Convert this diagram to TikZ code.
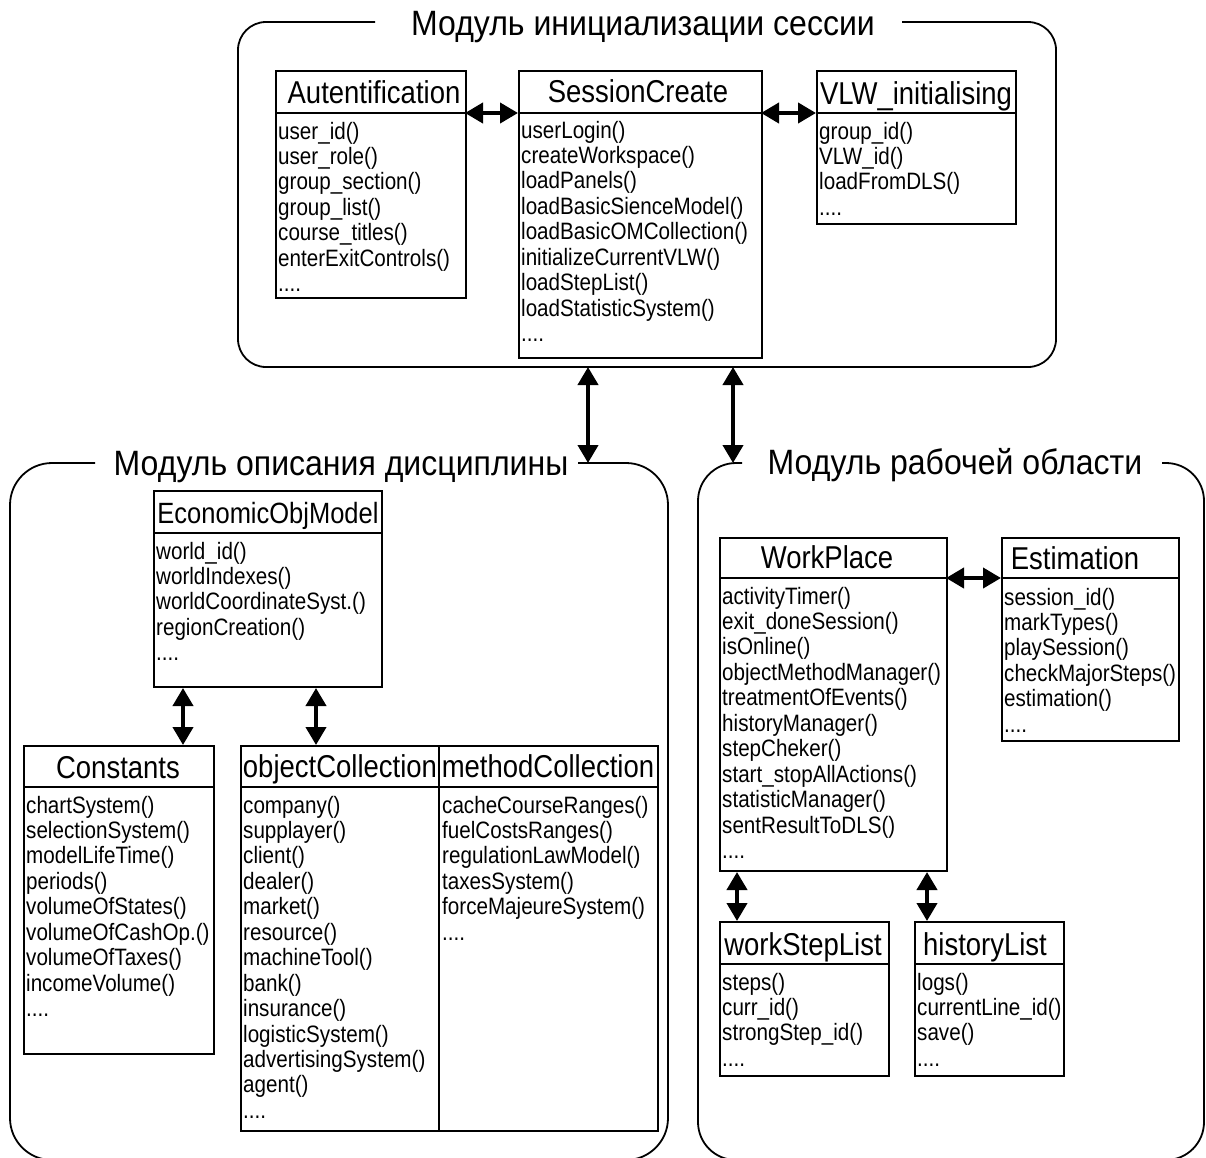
\documentclass[tikz,border=0pt]{standalone}
\usepackage{fontspec}
\setmainfont{Liberation Sans}[FakeStretch=0.87]
\newfontfamily\ttlfont{Liberation Sans}[FakeStretch=0.91]
\usetikzlibrary{arrows.meta}
\tikzset{
  cls/.style={draw, line width=2pt, inner sep=0pt, anchor=north west},
  divl/.style={line width=2pt},
  hdr/.style={font=\fontsize{31.6}{34}\selectfont, inner sep=0pt, anchor=base},
  mth/.style={font=\fontsize{23.7}{25.45}\selectfont, align=left, inner sep=0pt, anchor=north west},
  frame/.style={line width=1.8pt},
  ttl/.style={font=\ttlfont\fontsize{35.2}{38}\selectfont, inner sep=0pt, anchor=base},
  dbl/.style={line width=4pt, {Triangle[length=18pt,width=20pt]}-{Triangle[length=18pt,width=20pt]}},
}
\begin{document}
\begin{tikzpicture}[x=1pt,y=-1pt]
\useasboundingbox (0,0) rectangle (1206,1157);
\clip (0,0) rectangle (1206,1157);

% ---------- frames ----------
\draw[frame, rounded corners=28pt] (375,22) -- (238,22) -- (238,367) -- (1056,367) -- (1056,22) -- (902,22);
\node[ttl] (t1) at (643,35) {Модуль инициализации сессии};
\draw[frame, rounded corners=42pt] (95,463) -- (10,463) -- (10,1160) -- (668,1160) -- (668,463) -- (578,463);
\node[ttl] (t2) at (341,475) {Модуль описания дисциплины};
\draw[frame, rounded corners=38pt] (742,463) -- (698,463) -- (698,1160) -- (1204,1160) -- (1204,463) -- (1162,463);
\node[ttl] (t3) at (955,474) {Модуль рабочей области};

% ---------- Autentification ----------
\node[cls, minimum width=190pt, minimum height=227pt] (auth) at (275,70) {};
\coordinate (auth-dl) at (275,113); \coordinate (auth-dr) at (465,113);
\draw[divl] (auth-dl) -- (auth-dr);
\node[hdr] (auth-h) at (374,103) {Autentification};
\node[mth] (auth-m) at (278,121) {\strut user\_id()\\user\_role()\\group\_section()\\group\_list()\\course\_titles()\\enterExitControls()\\....};

% ---------- SessionCreate ----------
\node[cls, minimum width=243pt, minimum height=287pt] (sess) at (518,70) {};
\coordinate (sess-dl) at (518,113); \coordinate (sess-dr) at (761,113);
\draw[divl] (sess-dl) -- (sess-dr);
\node[hdr] (sess-h) at (638,102) {SessionCreate};
\node[mth] (sess-m) at (521,120) {\strut userLogin()\\createWorkspace()\\loadPanels()\\loadBasicSienceModel()\\loadBasicOMCollection()\\initializeCurrentVLW()\\loadStepList()\\loadStatisticSystem()\\....};

% ---------- VLW_initialising ----------
\node[cls, minimum width=199pt, minimum height=153pt] (vlw) at (816,70) {};
\coordinate (vlw-dl) at (816,113); \coordinate (vlw-dr) at (1015,113);
\draw[divl] (vlw-dl) -- (vlw-dr);
\node[hdr] (vlw-h) at (916,104) {VLW\_initialising};
\node[mth] (vlw-m) at (819,121) {\strut group\_id()\\VLW\_id()\\loadFromDLS()\\....};

\draw[dbl] (auth-dr) -- (sess-dl);
\draw[dbl] (sess-dr) -- (vlw-dl);

% ---------- inter-module arrows ----------
\coordinate (f1a) at (588,367); \coordinate (f2a) at (588,463);
\coordinate (f1b) at (733,367); \coordinate (f3a) at (733,463);
\draw[dbl] (f1a) -- (f2a);
\draw[dbl] (f1b) -- (f3a);

% ---------- EconomicObjModel ----------
\node[cls, minimum width=228pt, minimum height=196pt] (eco) at (153,490) {};
\coordinate (eco-dl) at (153,533); \coordinate (eco-dr) at (381,533);
\draw[divl] (eco-dl) -- (eco-dr);
\node[hdr, font=\fontsize{29.3}{32}\selectfont] (eco-h) at (268,523) {EconomicObjModel};
\node[mth] (eco-m) at (156,541) {\strut world\_id()\\worldIndexes()\\worldCoordinateSyst.()\\regionCreation()\\....};

% ---------- Constants ----------
\node[cls, minimum width=190pt, minimum height=308pt] (const) at (23,745) {};
\coordinate (const-dl) at (23,787); \coordinate (const-dr) at (213,787);
\draw[divl] (const-dl) -- (const-dr);
\node[hdr] (const-h) at (118,778) {Constants};
\node[mth] (const-m) at (26,795) {\strut chartSystem()\\selectionSystem()\\modelLifeTime()\\periods()\\volumeOfStates()\\volumeOfCashOp.()\\volumeOfTaxes()\\incomeVolume()\\....};

% ---------- objectCollection / methodCollection ----------
\node[cls, minimum width=417pt, minimum height=385pt] (coll) at (240,745) {};
\coordinate (coll-dl) at (240,787); \coordinate (coll-dr) at (657,787);
\draw[divl] (coll-dl) -- (coll-dr);
\draw[divl] ([xshift=199pt]coll.north west) -- ([xshift=199pt]coll.south west);
\node[hdr] (obj-h) at (340,777) {objectCollection};
\node[hdr] (met-h) at (548,777) {methodCollection};
\node[mth] (obj-m) at (243,795) {\strut company()\\supplayer()\\client()\\dealer()\\market()\\resource()\\machineTool()\\bank()\\insurance()\\logisticSystem()\\advertisingSystem()\\agent()\\....};
\node[mth] (met-m) at (442,795) {\strut cacheCourseRanges()\\fuelCostsRanges()\\regulationLawModel()\\taxesSystem()\\forceMajeureSystem()\\....};

\draw[dbl] ([xshift=30pt]eco.south west) -- ([xshift=160pt]const.north west);
\draw[dbl] ([xshift=163pt]eco.south west) -- ([xshift=76pt]coll.north west);

% ---------- WorkPlace ----------
\node[cls, minimum width=227pt, minimum height=333pt] (work) at (719,537) {};
\coordinate (work-dl) at (719,578); \coordinate (work-dr) at (946,578);
\draw[divl] (work-dl) -- (work-dr);
\node[hdr] (work-h) at (827,568) {WorkPlace};
\node[mth] (work-m) at (722,586) {\strut activityTimer()\\exit\_doneSession()\\isOnline()\\objectMethodManager()\\treatmentOfEvents()\\historyManager()\\stepCheker()\\start\_stopAllActions()\\statisticManager()\\sentResultToDLS()\\....};

% ---------- Estimation ----------
\node[cls, minimum width=177pt, minimum height=203pt] (est) at (1001,537) {};
\coordinate (est-dl) at (1001,578); \coordinate (est-dr) at (1178,578);
\draw[divl] (est-dl) -- (est-dr);
\node[hdr] (est-h) at (1075,569) {Estimation};
\node[mth] (est-m) at (1004,587) {\strut session\_id()\\markTypes()\\playSession()\\checkMajorSteps()\\estimation()\\....};

\draw[dbl] (work-dr) -- (est-dl);

% ---------- workStepList ----------
\node[cls, minimum width=169pt, minimum height=154pt] (wsl) at (719,921) {};
\coordinate (wsl-dl) at (719,964); \coordinate (wsl-dr) at (888,964);
\draw[divl] (wsl-dl) -- (wsl-dr);
\node[hdr] (wsl-h) at (803,955) {workStepList};
\node[mth] (wsl-m) at (722,972) {\strut steps()\\curr\_id()\\strongStep\_id()\\....};

% ---------- historyList ----------
\node[cls, minimum width=149pt, minimum height=154pt] (hist) at (914,921) {};
\coordinate (hist-dl) at (914,964); \coordinate (hist-dr) at (1063,964);
\draw[divl] (hist-dl) -- (hist-dr);
\node[hdr] (hist-h) at (985,955) {historyList};
\node[mth] (hist-m) at (917,972) {\strut logs()\\currentLine\_id()\\save()\\....};

\draw[dbl] ([xshift=18pt]work.south west) -- ([xshift=18pt]wsl.north west);
\draw[dbl] ([xshift=208pt]work.south west) -- ([xshift=13pt]hist.north west);
\end{tikzpicture}
\end{document}
